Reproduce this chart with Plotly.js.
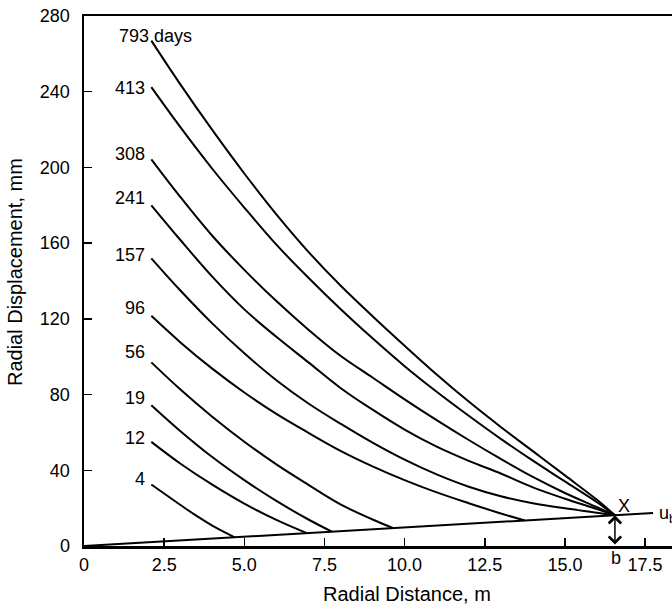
<!DOCTYPE html>
<html>
<head>
<meta charset="utf-8">
<script src="https://cdn.plot.ly/plotly-3.0.1.min.js"></script>
<style>html,body{margin:0;padding:0;background:#fff}</style>
</head>
<body>
<div id="chart" style="width:672px;height:606px"></div>
<script>
// Radial displacement profiles at successive times (days after excavation)
const curveNames = ["4", "12", "19", "56", "96", "157", "241", "308", "413", "793 days"];

// Distances (m) for the profiles that run out to the base point X
const xToX = [2.1, 3, 4, 5, 6, 7, 8, 9, 10, 11, 12, 13, 14, 15, 16, 16.56];
const u793 = [267, 244, 219.8, 196.8, 175.2, 155.4, 137.6, 121.4, 105.8, 90.6, 76.3, 62.9, 50.1, 37.3, 24.4, 16.2];
const u413 = [242.4, 221.4, 199.3, 178.8, 159.2, 141.7, 125.2, 109.7, 95, 81.5, 68.8, 56.6, 45.1, 34.1, 23.1, 16.2];
const u308 = [204.3, 184.5, 163.9, 145.9, 129.4, 114.3, 100.5, 89, 77.5, 66.5, 56, 46, 36.5, 28, 20.5, 16.2];
const u241 = [180, 161.8, 142.3, 125, 110.5, 97, 83.5, 72, 61.5, 52.5, 45, 38.3, 31, 25, 19.5, 16.2];
const u157 = [152, 135.1, 117.6, 101.8, 87.6, 75.3, 64.6, 54.6, 45.6, 37.8, 31.3, 26.3, 22.6, 19.9, 17.6, 16.2];

// Shorter profiles that end on the base line
const x96 = [2.1, 3, 4, 5, 6, 7, 8, 9, 10, 11, 12, 13, 13.75];
const u96 = [121.6, 107.7, 93.7, 81.1, 69.8, 59.8, 50.3, 42.1, 34.8, 28.3, 22.6, 17.2, 13.5];
const x56 = [2.1, 3, 4, 5, 6, 7, 8, 9, 9.65];
const u56 = [97, 82.8, 68.3, 55.1, 43.1, 32.3, 22, 14, 9.4];
const x19 = [2.1, 3, 4, 5, 6, 7, 7.73];
const u19 = [74.4, 60.8, 47, 34.8, 23.8, 14, 7.6];
const x12 = [2.1, 3, 4, 5, 6, 6.95];
const u12 = [55, 43.6, 32.4, 22.4, 13.8, 6.8];
const x4 = [2.1, 3, 3.5, 4, 4.7];
const u4 = [32.5, 21.8, 16, 10.8, 4.6];

// Base line u_b through the point X
const xBase = [0, 17.75];
const uBase = [0, 17.4];

// Label heights (mm) of the time labels at the left end of each profile
const labelU = [35.6, 56.8, 78.1, 102.3, 125.7, 153.7, 183.9, 207.1, 242, 269.2];

// Axis ticks
const xTickVals = [0, 2.5, 5, 7.5, 10, 12.5, 15, 17.5];
const xTickText = ["0", "2.5", "5.0", "7.5", "10.0", "12.5", "15.0", "17.5"];
const yTickVals = [0, 40, 80, 120, 160, 200, 240, 280];

// Point X on the base line
const pointX = [16.56, 16.2];

const series = [
  [x4, u4], [x12, u12], [x19, u19], [x56, u56], [x96, u96],
  [xToX, u157], [xToX, u241], [xToX, u308], [xToX, u413], [xToX, u793]
];

const lineStyle = {color: "#000", width: 2, shape: "spline", smoothing: 1};

const traces = series.map((s, i) => ({
  x: s[0], y: s[1], type: "scatter", mode: "lines",
  name: curveNames[i], line: lineStyle, hoverinfo: "skip"
}));
traces.push({x: xBase, y: uBase, type: "scatter", mode: "lines", name: "ub",
  line: {color: "#000", width: 2}, hoverinfo: "skip"});

const font = {family: "Liberation Sans, Arial, sans-serif", color: "#000"};

const annotations = curveNames.map((name, i) => ({
  x: i === curveNames.length - 1 ? 1.03 : 1.95,
  y: labelU[i], xref: "x", yref: "y",
  xanchor: i === curveNames.length - 1 ? "left" : "right", yanchor: "middle",
  text: name, showarrow: false, font: {...font, size: 18}
}));

annotations.push(
  {x: 16.84, y: 21, xref: "x", yref: "y", xanchor: "center", yanchor: "middle",
   text: "X", showarrow: false, font: {...font, size: 18}},
  {x: 17.87, y: 16.5, xref: "x", yref: "y", xanchor: "left", yanchor: "middle",
   text: "u<sub>b</sub>", showarrow: false, font: {...font, size: 18}},
  {x: 16.59, y: -0.0232, xref: "x", yref: "paper", xanchor: "center", yanchor: "middle",
   text: "b", showarrow: false, font: {...font, size: 18}},
  {x: pointX[0], y: pointX[1], ax: pointX[0], ay: 0, xref: "x", yref: "y", axref: "x", ayref: "y",
   text: "", showarrow: true, arrowside: "end+start", arrowhead: 4, arrowsize: 1.6, arrowwidth: 1.5, arrowcolor: "#000"},
  {x: 0.5485, y: -0.0913, xref: "paper", yref: "paper", xanchor: "center", yanchor: "middle",
   text: "Radial Distance, m", showarrow: false, font: {...font, size: 20}},
  {x: -0.1173, y: 0.517, xref: "paper", yref: "paper", xanchor: "center", yanchor: "middle",
   text: "Radial Displacement, mm", textangle: -90, showarrow: false, font: {...font, size: 20}}
);

const layout = {
  width: 672, height: 606,
  margin: {l: 84, r: 0, t: 16, b: 60, pad: 0},
  paper_bgcolor: "#fff", plot_bgcolor: "#fff",
  showlegend: false,
  font: {...font, size: 18},
  xaxis: {
    range: [0, 18.34], tickvals: xTickVals, ticktext: xTickText,
    ticks: "inside", ticklen: 8, tickwidth: 1.5, tickcolor: "#000",
    showline: true, linewidth: 2.5, linecolor: "#000", mirror: true,
    showgrid: false, zeroline: false, ticklabelstandoff: 1,
    tickfont: {...font, size: 18}
  },
  yaxis: {
    range: [0, 280], tickvals: yTickVals,
    ticks: "inside", ticklen: 8, tickwidth: 1.5, tickcolor: "#000",
    showline: true, linewidth: 2.5, linecolor: "#000",
    showgrid: false, zeroline: false, ticklabelstandoff: 8,
    tickfont: {...font, size: 18}
  },
  annotations: annotations
};

Plotly.newPlot("chart", traces, layout, {staticPlot: true, displayModeBar: false});
</script>
</body>
</html>
